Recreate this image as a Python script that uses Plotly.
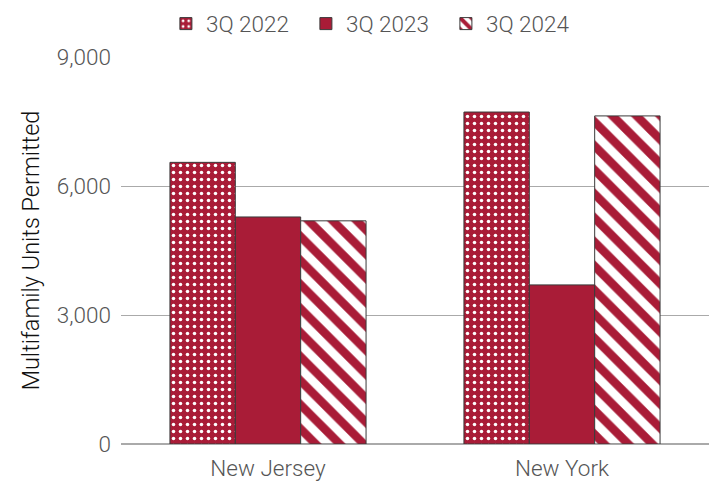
import plotly.graph_objects as go

categories = ["New Jersey", "New York"]
series_names = ["3Q 2022", "3Q 2023", "3Q 2024"]
v2022 = [6550, 7720]
v2023 = [5280, 3700]
v2024 = [5190, 7630]
tick_vals = [0, 3000, 6000, 9000]
tick_text = ["0", "3,000", "6,000", "9,000"]

RED = "#A91C37"
OUT = "#3a3a3a"
FAM = "Roboto, Liberation Sans, Arial, sans-serif"
GREY = "#555555"
FS = 22.5

fig = go.Figure()
fig.add_trace(go.Bar(
    name=series_names[0], x=categories, y=v2022,
    marker=dict(color=RED, line=dict(color=OUT, width=1),
                pattern=dict(shape=".", bgcolor=RED, fgcolor="white", fgopacity=1,
                             size=7, solidity=0.2, fillmode="replace")),
))
fig.add_trace(go.Bar(
    name=series_names[1], x=categories, y=v2023,
    marker=dict(color=RED, line=dict(color=OUT, width=1)),
))
fig.add_trace(go.Bar(
    name=series_names[2], x=categories, y=v2024,
    marker=dict(color="white", line=dict(color=OUT, width=1),
                pattern=dict(shape="\\", bgcolor="white", fgcolor=RED, fgopacity=1,
                             size=17, solidity=0.5, fillmode="replace")),
))

fig.update_layout(
    width=712, height=496,
    margin=dict(l=121, r=3, t=57, b=52, autoexpand=False),
    paper_bgcolor="white", plot_bgcolor="white",
    barmode="group", bargap=0.333, bargroupgap=0,
    font=dict(family=FAM, color=GREY, size=FS, weight=300),
    showlegend=True,
    legend=dict(orientation="h", xref="container", x=0.233, xanchor="left",
                yref="container", y=0.995, yanchor="top",
                entrywidth=95, entrywidthmode="pixels",
                font=dict(family=FAM, size=FS, color=GREY, weight=300),
                traceorder="normal"),
    xaxis=dict(showgrid=False, showline=False, ticks="", ticklabelstandoff=8,
               tickfont=dict(family=FAM, size=FS, color=GREY, weight=300)),
    yaxis=dict(range=[0, 9000], tickvals=tick_vals, ticktext=tick_text,
               showgrid=True, gridcolor="#aaaaaa", gridwidth=1,
               zeroline=True, zerolinecolor="#aaaaaa", zerolinewidth=1.5,
               showline=False, ticks="", ticklabelstandoff=9,
               tickfont=dict(family=FAM, size=FS, color=GREY, weight=300),
               title=dict(text="Multifamily Units Permitted", standoff=10,
                          font=dict(family=FAM, size=23.5, color="#111111", weight=300))),
)

fig.write_html("out.html")
